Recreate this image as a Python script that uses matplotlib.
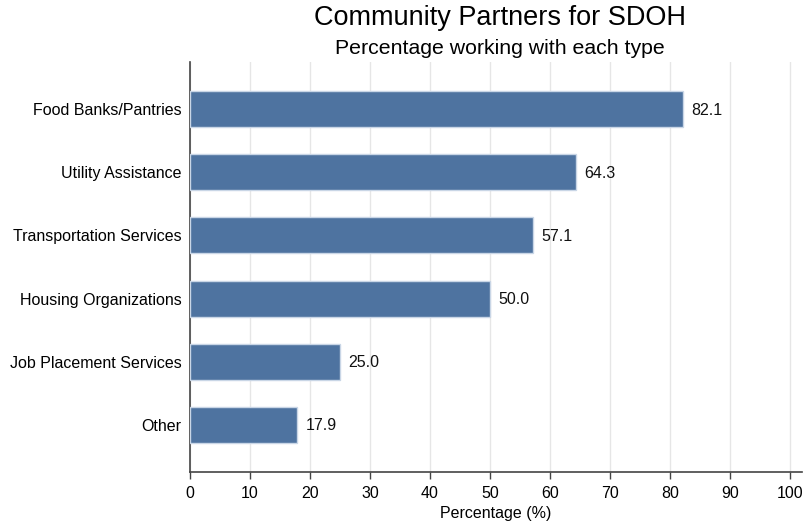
import matplotlib.pyplot as plt
import numpy as np

plt.rcParams['font.family'] = ['Liberation Sans', 'DejaVu Sans']

categories = ["Food Banks/Pantries", "Utility Assistance", "Transportation Services",
              "Housing Organizations", "Job Placement Services", "Other"]
values = [82.1, 64.3, 57.1, 50.0, 25.0, 17.9]
xticks = list(range(0, 101, 10))

fig = plt.figure(figsize=(8.06, 5.26), dpi=100)
ax = fig.add_axes([190 / 806, 54 / 526, 612 / 806, 410 / 526])

pos = np.arange(len(categories))[::-1]
ax.barh(pos, values, height=0.57, color="#4e73a0", edgecolor="#c9d6e6", linewidth=1, zorder=3)
for p, v in zip(pos, values):
    ax.text(v + 1.4, p - 0.02, f"{v:.1f}", va="center", ha="left", fontsize=11.5, color="#111111")

ax.set_yticks(pos)
ax.set_yticklabels(categories, fontsize=11.5)
ax.tick_params(axis="y", length=0, pad=6)
ax.set_xticks(xticks)
ax.tick_params(axis="x", labelsize=11.5, length=5, color="#444444", width=1, pad=5)
ax.set_xlim(0, 102)
ax.set_ylim(-0.75, len(categories) - 0.25)
ax.grid(axis="x", color="#e6e6e6", linewidth=1, zorder=0)
ax.set_xlabel("Percentage (%)", fontsize=11.5, labelpad=4)

for s in ["top", "right"]:
    ax.spines[s].set_visible(False)
for s in ["left", "bottom"]:
    ax.spines[s].set_color("#444444")
    ax.spines[s].set_linewidth(1.2)

fig.text(0.62, 0.965, "Community Partners for SDOH", ha="center", va="center", fontsize=19.5)
fig.text(0.62, 0.908, "Percentage working with each type", ha="center", va="center", fontsize=15.3)

fig.savefig("out.png", dpi=100)
